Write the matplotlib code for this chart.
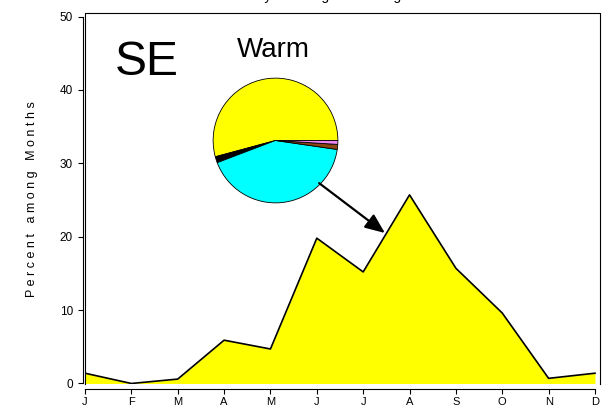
import matplotlib
matplotlib.use("Agg")
import matplotlib.pyplot as plt

plt.rcParams['font.family'] = ['Liberation Sans', 'DejaVu Sans']

# Monthly share of events (%)
months = ['J', 'F', 'M', 'A', 'M', 'J', 'J', 'A', 'S', 'O', 'N', 'D']
month_pos = list(range(1, 13))
pct = [1.4, 0.0, 0.6, 5.9, 4.7, 19.8, 15.2, 25.7, 15.7, 9.6, 0.7, 1.4]

# Composition of the warm-season events (pie inset)
pie_share = [54.2, 1.6, 41.9, 1.3, 1.0]
pie_colors = ['#FFFF00', '#000000', '#00FFFF', '#8B4513', '#EE82EE']

y_ticks = [0, 10, 20, 30, 40, 50]
region = 'SE'
season = 'Warm'
title = 'Yearly Wet Regions among Months'
ylabel = 'P e r c e n t   a m o n g   M o n t h s'

W, H = 603, 409
fig = plt.figure(figsize=(W / 100, H / 100), dpi=100)

# main panel (pixel layout: x 85..600, y 13..384)
ax = fig.add_axes([85 / W, (H - 384) / H, (600 - 85) / W, (384 - 13) / H])
ax.set_zorder(2)
ax.patch.set_alpha(0)

ax.fill_between(month_pos, pct, 0, color='#FFFF00', lw=0, zorder=2)
ax.plot(month_pos, pct, color='black', lw=1.2, zorder=3)

ax.set_xlim(1, 12.108)
ax.set_ylim(-0.07, 50.48)

# box on left, top and right
ax.plot([0, 0, 1, 1], [0, 1, 1, 0], transform=ax.transAxes, color='black',
        lw=0.8, clip_on=False, zorder=4)

for s in ('top', 'right'):
    ax.spines[s].set_visible(False)
ax.spines['left'].set_position(('outward', 1.5))
ax.spines['left'].set_bounds(0, 50)
ax.spines['bottom'].set_position(('outward', 3.3))
ax.spines['bottom'].set_bounds(1, 12)
for s in ('left', 'bottom'):
    ax.spines[s].set_linewidth(0.8)

ax.set_xticks(month_pos)
ax.set_xticklabels(months)
ax.set_yticks(y_ticks)
ax.tick_params(axis='both', direction='out', length=3.6, width=0.8,
               labelsize=8.5, colors='black')
ax.tick_params(axis='y', pad=3.6)
ax.tick_params(axis='x', pad=2.2, labelsize=8)

ax.text(1.65, 42.0, region, fontsize=34.6, va='baseline', ha='left')
ax.text(4.28, 44.5, season, fontsize=20, va='baseline', ha='left')

ax.annotate('', xy=(7.47, 20.5), xytext=(6.05, 27.3),
            arrowprops=dict(arrowstyle='-|>,head_length=1.2,head_width=0.5',
                            color='black', lw=1.6, shrinkA=0, shrinkB=0),
            annotation_clip=False, zorder=6)

fig.text(32 / W, (H - 199) / H, ylabel, rotation=90, fontsize=9,
         ha='center', va='center')

# title sits mostly above the figure edge
fig.text(342 / W, (H + 0.5) / H, title, fontsize=10, ha='center',
         va='baseline')

# pie inset
pax = fig.add_axes([212.5 / W, (H - 203.5) / H, 126 / W, 126 / H])
pax.set_zorder(1)
pax.pie(pie_share, colors=pie_colors, startangle=0, counterclock=True,
        radius=1, wedgeprops=dict(edgecolor='black', linewidth=0.6))
pax.set_xlim(-1.01, 1.01)
pax.set_ylim(-1.01, 1.01)
pax.set_aspect('auto')
pax.axis('off')

fig.savefig('out.png', dpi=100)
